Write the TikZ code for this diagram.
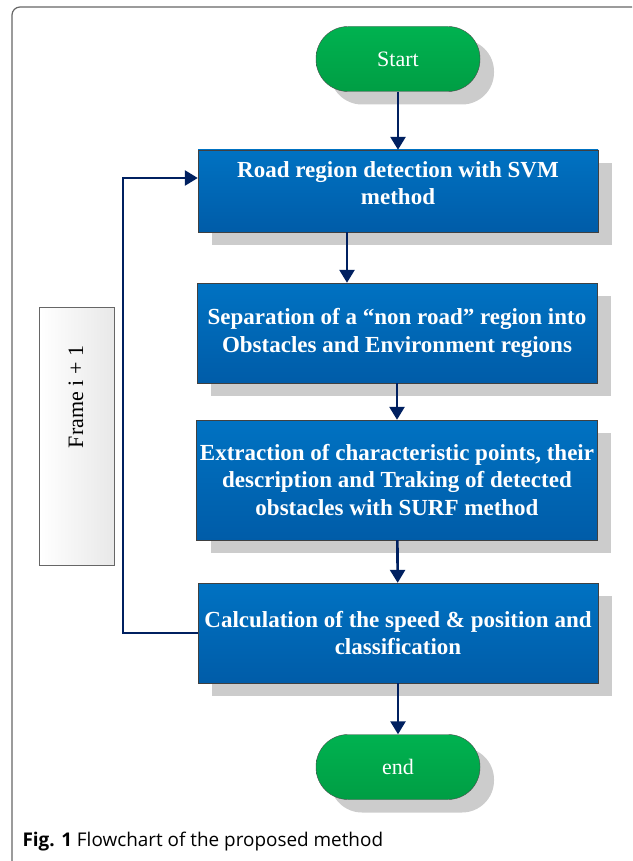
\documentclass[tikz,border=0pt]{standalone}
\usepackage{fontspec}
\setmainfont{Liberation Serif}
\newfontfamily\capfont{Open Sans}
\usetikzlibrary{arrows.meta,shadows,positioning,calc}
\definecolor{procTop}{RGB}{0,114,194}
\definecolor{procBot}{RGB}{0,92,168}
\definecolor{termTop}{RGB}{0,178,80}
\definecolor{termBot}{RGB}{0,158,68}
\definecolor{navy}{RGB}{0,32,96}
\tikzstyle{shade} = [drop shadow={shadow xshift=14pt, shadow yshift=-13pt, fill=black!20, opacity=1}]
\tikzstyle{term} = [shade, draw=black!70, top color=termTop, bottom color=termBot, text=white,
  minimum width=164pt, minimum height=65pt, rounded corners=32pt, font=\fontsize{22}{26}\selectfont]
\tikzstyle{proc} = [shade, draw=black!75, top color=procTop, bottom color=procBot, text=white,
  minimum width=400pt, align=center, font=\bfseries\fontsize{23}{27.5}\selectfont]
\tikzstyle{flow} = [draw=navy, line width=2.6pt, -{Triangle[width=15pt,length=13pt]}]

\begin{document}
\begin{tikzpicture}[x=1pt, y=-1pt]
    \useasboundingbox (0,0) rectangle (632,861);
    \draw[black!60, line width=1.2pt, rounded corners=8pt] (12,861) |- (632,7);
    \node[term] (s) at (398,59) {Start};
    \node[proc, minimum height=82pt, text depth=16pt] (1) at (398,191) {Road region detection with SVM\\method};
    \node[proc, minimum height=100pt] (2) at (397,333) {Separation of a ``non road'' region into\\Obstacles and Environment regions};
    \node[proc, minimum height=120pt] (3) at (397,480) {Extraction of characteristic points, their\\description and Traking of detected\\obstacles with SURF method};
    \node[proc, minimum height=100pt] (4) at (398,633) {Calculation of the speed \& position and\\classification};
    \node[term] (e) at (398,767) {end};
    \node[draw=black!60, left color=white, right color=black!9, minimum width=75pt, minimum height=258pt] (f) at (77,436) {};
    \node[rotate=90, font=\fontsize{22}{26}\selectfont] (fl) at (76,397) {Frame i + 1};
    \draw[flow] (s) -- (1);
    \draw[flow] ([xshift=-51pt]1.south) -- ([xshift=-50pt]2.north);
    \draw[flow] (2) -- (3);
    \draw[flow] (3) -- (4);
    \draw[flow] (4) -- (e);
    \draw[flow] (4.west) -- ++(-75,0) |- ([yshift=13pt]1.west);
    \node[anchor=base west, font=\capfont\fontsize{18.9}{22}\selectfont] (cap) at (19,846) {\textbf{Fig. 1} Flowchart of the proposed method};
\end{tikzpicture}
\end{document}
